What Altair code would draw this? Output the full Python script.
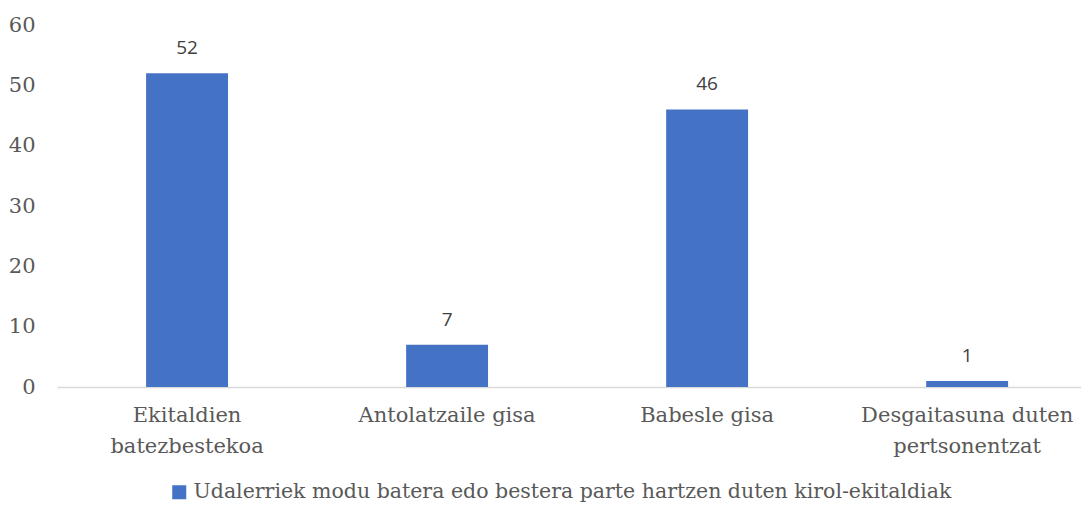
import altair as alt
import pandas as pd

categories = [
    "Ekitaldien|batezbestekoa",
    "Antolatzaile gisa",
    "Babesle gisa",
    "Desgaitasuna duten|pertsonentzat",
]
values = [52, 7, 46, 1]
series_name = "Udalerriek modu batera edo bestera parte hartzen duten kirol-ekitaldiak"
y_ticks = [0, 10, 20, 30, 40, 50, 60]

df = pd.DataFrame({"cat": categories, "value": values, "series": [series_name] * len(values)})

SERIF = "DejaVu Serif"
GRAY = "#595959"

base = alt.Chart(df).encode(
    x=alt.X(
        "cat:N",
        sort=categories,
        title=None,
        scale=alt.Scale(paddingInner=0.685, paddingOuter=0.3115, align=0.55),
        axis=alt.Axis(
            labelExpr="split(datum.label, '|')",
            labelAngle=0,
            labelFont=SERIF,
            labelFontSize=21,
            labelColor=GRAY,
            labelLineHeight=31,
            labelPadding=17,
            ticks=False,
            domainColor="#d9d9d9",
            domainWidth=1.5,
            labelLimit=400,
        ),
    ),
    y=alt.Y(
        "value:Q",
        title=None,
        scale=alt.Scale(domain=[0, 60], nice=False),
        axis=alt.Axis(
            values=y_ticks,
            grid=False,
            domain=False,
            ticks=False,
            labelFont=SERIF,
            labelFontSize=21,
            labelColor=GRAY,
            labelPadding=22,
        ),
    ),
)

bars = base.mark_bar(color="#4472C4").encode(
    color=alt.Color(
        "series:N",
        title=None,
        scale=alt.Scale(range=["#4472C4"]),
        legend=alt.Legend(
            orient="none",
            legendX=112,
            legendY=457,
            symbolType="square",
            symbolSize=196,
            symbolStrokeWidth=0,
            labelFont=SERIF,
            labelFontSize=20.5,
            labelColor=GRAY,
            labelLimit=1000,
            symbolOffset=0,
            labelOffset=4,
        ),
    )
)

labels = base.mark_text(dy=-15, font="Open Sans", fontSize=19, color="#404040", baseline="bottom").encode(
    text="value:Q"
)

chart = (
    alt.layer(bars, labels)
    .properties(
        width=1024,
        height=362,
        autosize=alt.AutoSizeParams(type="none"),
        padding={"left": 49, "top": 17, "right": 0, "bottom": 118},
        background="white",
    )
    .configure_view(stroke=None, strokeWidth=0)
)

chart.save("out.html", embed_options={"renderer": "svg", "actions": False})
